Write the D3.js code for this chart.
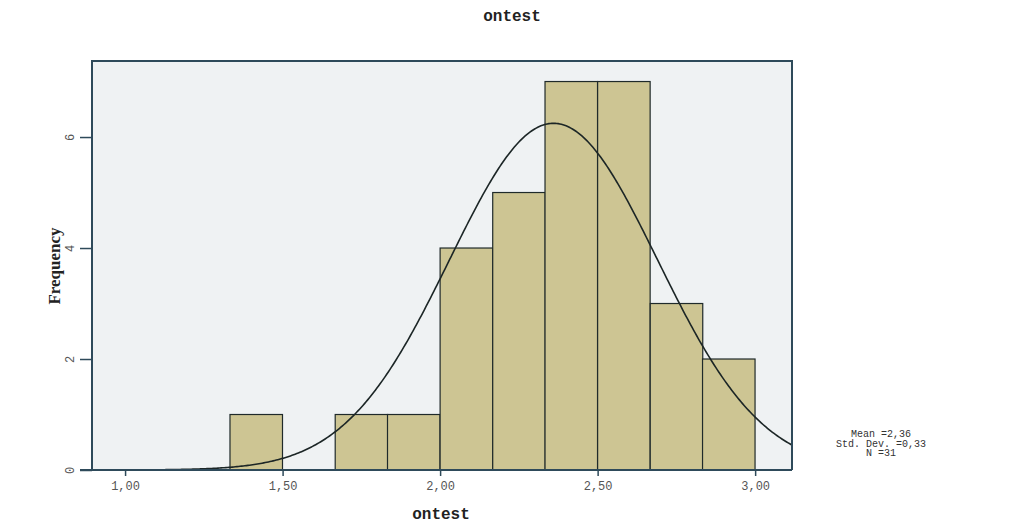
<!DOCTYPE html>
<html>
<head>
<meta charset="utf-8">
<script src="https://cdn.jsdelivr.net/npm/d3@7"></script>
<style>
  body { margin: 0; background: #fff; }
  .mono { font-family: "Liberation Mono", "DejaVu Sans Mono", monospace; }
</style>
</head>
<body>
<div class="chart"></div>
<script>
// histogram bins (lower edge) and counts
var binStart = [1.333, 1.5, 1.667, 1.833, 2.0, 2.167, 2.333, 2.5, 2.667, 2.833];
var binWidth = 0.1667;
var counts = [1, 0, 1, 1, 4, 5, 7, 7, 3, 2];

var xTicks = [1.0, 1.5, 2.0, 2.5, 3.0];
var yTicks = [0, 2, 4, 6];

// summary stats shown in the legend
var statMean = 2.36;
var statSd = 0.33;
var statN = 31;

var svgWidth = 1012;
var svgHeight = 527;

var plot = { left: 92, right: 792, top: 61, bottom: 470 };

var svg = d3.select(".chart")
  .append("svg")
  .attr("width", svgWidth)
  .attr("height", svgHeight);

var xScale = d3.scaleLinear()
  .domain([0.895, 3.117])
  .range([plot.left, plot.right]);

var yScale = d3.scaleLinear()
  .domain([0, 7.37])
  .range([plot.bottom, plot.top]);

var commaFmt = d => d3.format(".2f")(d).replace(".", ",");

// plot background
svg.append("rect")
  .attr("x", plot.left)
  .attr("y", plot.top)
  .attr("width", plot.right - plot.left)
  .attr("height", plot.bottom - plot.top)
  .attr("fill", "#eff2f3");

// bars
svg.selectAll(".bar")
  .data(counts)
  .enter()
  .append("rect")
  .attr("class", "bar")
  .attr("x", (d, i) => xScale(binStart[i]))
  .attr("y", d => yScale(d))
  .attr("width", (d, i) => xScale(binStart[i] + binWidth) - xScale(binStart[i]))
  .attr("height", d => yScale(0) - yScale(d))
  .attr("fill", "#cdc593")
  .attr("stroke", "#1f2a2a")
  .attr("stroke-width", 1.2)
  .attr("display", d => d > 0 ? null : "none");

// normal curve from the stated mean / sd / N
var curvePts = d3.range(0.895, 3.1171, 0.005).map(function (x) {
  var z = (x - statMean) / statSd;
  var y = statN * binWidth * Math.exp(-0.5 * z * z) / (statSd * Math.sqrt(2 * Math.PI));
  return [x, y];
});

svg.append("path")
  .datum(curvePts)
  .attr("fill", "none")
  .attr("stroke", "#1c2626")
  .attr("stroke-width", 1.6)
  .attr("d", d3.line().x(d => xScale(d[0])).y(d => yScale(d[1])));

// frame (left, top, right)
svg.append("path")
  .attr("d", `M${plot.left},${plot.bottom}V${plot.top}H${plot.right}V${plot.bottom}`)
  .attr("fill", "none")
  .attr("stroke", "#2e4a5a")
  .attr("stroke-width", 2);

// x axis
var bottomAxis = d3.axisBottom(xScale)
  .tickValues(xTicks)
  .tickSize(6)
  .tickPadding(5)
  .tickFormat(commaFmt);

var xAxisG = svg.append("g")
  .attr("transform", `translate(0, ${plot.bottom})`)
  .call(bottomAxis);
xAxisG.select(".domain").remove();
xAxisG.selectAll("line").attr("stroke", "#2e4a5a").attr("stroke-width", 1.5);
xAxisG.selectAll("text")
  .attr("class", "mono")
  .attr("fill", "#555")
  .style("font-size", "12px");

// y axis
var leftAxis = d3.axisLeft(yScale)
  .tickValues(yTicks)
  .tickSize(12)
  .tickPadding(0);

var yAxisG = svg.append("g")
  .attr("transform", `translate(${plot.left}, 0)`)
  .call(leftAxis);
yAxisG.select(".domain").remove();
yAxisG.selectAll("line").attr("stroke", "#2e4a5a").attr("stroke-width", 1.5);
yAxisG.selectAll("text")
  .attr("class", "mono")
  .attr("fill", "#555")
  .attr("x", null)
  .attr("dy", null)
  .attr("text-anchor", "middle")
  .attr("transform", "translate(-18, 0) rotate(-90)")
  .style("font-size", "12px");

// x axis baseline
svg.append("line")
  .attr("x1", plot.left - 12)
  .attr("x2", plot.right)
  .attr("y1", plot.bottom)
  .attr("y2", plot.bottom)
  .attr("stroke", "#2e4a5a")
  .attr("stroke-width", 2);

// title and axis labels
svg.append("text")
  .attr("class", "mono")
  .attr("x", 512)
  .attr("y", 21)
  .attr("text-anchor", "middle")
  .style("font-size", "16px")
  .style("font-weight", "bold")
  .attr("fill", "#222")
  .text("ontest");

svg.append("text")
  .attr("class", "mono")
  .attr("x", 441)
  .attr("y", 519)
  .attr("text-anchor", "middle")
  .style("font-size", "16px")
  .style("font-weight", "bold")
  .attr("fill", "#222")
  .text("ontest");

svg.append("text")
  .attr("transform", "translate(60, 266) rotate(-90)")
  .attr("text-anchor", "middle")
  .style("font-family", "Liberation Serif, serif")
  .style("font-size", "17px")
  .style("font-weight", "bold")
  .attr("fill", "#222")
  .text("Frequency");

// legend
var legendLines = [
  "Mean =" + d3.format(".2f")(statMean).replace(".", ","),
  "Std. Dev. =" + d3.format(".2f")(statSd).replace(".", ","),
  "N =" + statN
];
svg.selectAll(".legend")
  .data(legendLines)
  .enter()
  .append("text")
  .attr("class", "mono")
  .attr("x", 881)
  .attr("y", (d, i) => 437 + i * 9.5)
  .attr("text-anchor", "middle")
  .style("font-size", "10px")
  .attr("fill", "#333")
  .text(d => d);
</script>
</body>
</html>
